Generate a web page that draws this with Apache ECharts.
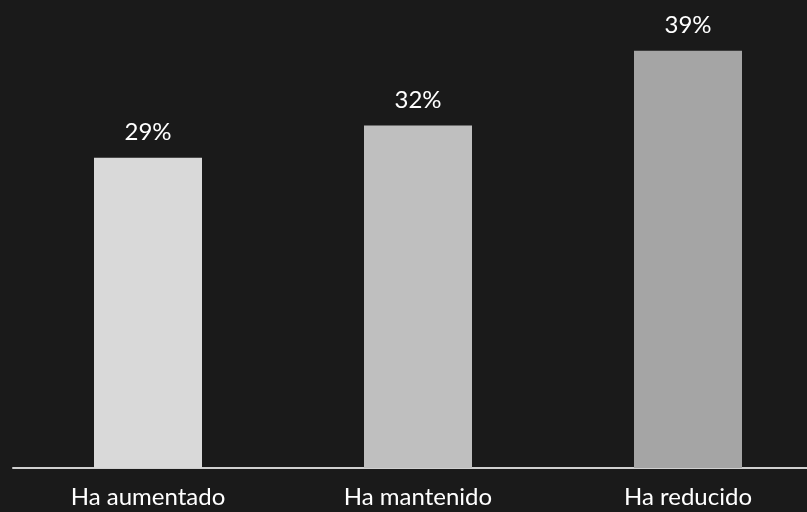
<!DOCTYPE html>
<html><head><meta charset="utf-8">
<script src="https://cdn.jsdelivr.net/npm/echarts@6/dist/echarts.min.js"></script>
<style>html,body{margin:0;padding:0;background:#1a1a1a;overflow:hidden;width:807px;height:512px;}#c{width:823px;height:512px;}</style>
</head><body><div id="c"></div>
<script>
const categories = ["Ha aumentado", "Ha mantenido", "Ha reducido"];
const values = [29, 32, 39];
const barColors = ["#d9d9d9", "#bfbfbf", "#a5a5a5"];

const chart = echarts.init(document.getElementById('c'));
chart.setOption({
  backgroundColor: '#1a1a1a',
  animation: false,
  grid: { left: 13, right: 0, top: 40, height: 428, outerBoundsMode: 'none' },
  xAxis: {
    type: 'category',
    data: categories,
    axisLine: { lineStyle: { color: '#d0d0d0', width: 2 } },
    axisTick: { show: false },
    axisLabel: { color: '#ffffff', fontSize: 24, fontFamily: 'Lato', margin: 17 }
  },
  yAxis: { type: 'value', min: 0, max: 40, show: false, splitLine: { show: false } },
  series: [{
    type: 'bar',
    barWidth: 108,
    data: values.map((v, i) => ({ value: v, itemStyle: { color: barColors[i] } })),
    label: { show: true, position: 'top', distance: 13, color: '#ffffff', fontSize: 24, fontFamily: 'Lato', formatter: p => p.value + '%' }
  }]
});
</script></body></html>
